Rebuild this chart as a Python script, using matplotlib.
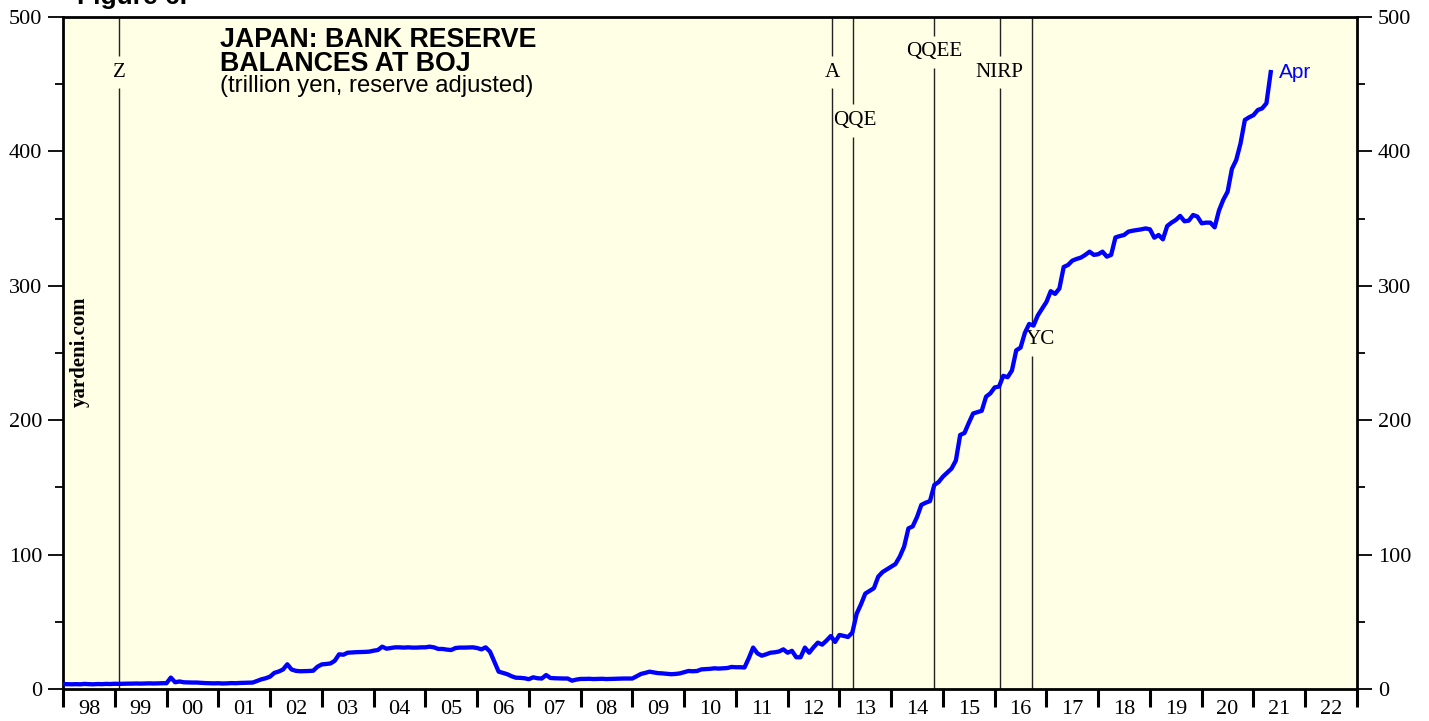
import matplotlib.pyplot as plt
import numpy as np

plt.rcParams['font.family'] = ['Liberation Serif', 'DejaVu Serif']

# bank reserve balances at BOJ, trillion yen, month-end values
dec1997 = [3.6]
r1998 = [3.6, 3.5, 3.6, 3.5, 3.8, 3.6, 3.5, 3.7, 3.6, 3.8, 3.7, 3.9]
r1999 = [3.8, 3.9, 4.0, 4.0, 4.1, 4.0, 4.1, 4.2, 4.1, 4.2, 4.3, 4.3]
r2000 = [8.5, 5.0, 5.6, 5.0, 4.9, 4.8, 4.8, 4.6, 4.4, 4.3, 4.2, 4.3]
r2001 = [4.1, 4.2, 4.4, 4.3, 4.5, 4.6, 4.7, 4.8, 6.0, 7.2, 8.0, 9.2]
r2002 = [12.0, 13.0, 14.5, 18.4, 14.5, 13.5, 13.2, 13.3, 13.4, 13.6, 16.6, 18.3]
r2003 = [18.6, 19.0, 21.0, 25.8, 25.5, 27.0, 27.2, 27.4, 27.5, 27.6, 27.8, 28.5]
r2004 = [29.0, 31.5, 30.0, 30.5, 31.0, 31.0, 30.8, 31.0, 30.8, 30.8, 31.0, 31.0]
r2005 = [31.5, 31.0, 29.8, 29.8, 29.3, 29.0, 30.5, 30.8, 30.8, 30.9, 31.0, 30.5]
r2006 = [29.5, 31.0, 27.8, 20.3, 12.9, 12.0, 11.0, 9.5, 8.4, 8.3, 8.0, 7.3]
r2007 = [8.7, 8.0, 7.8, 10.4, 8.2, 8.0, 7.9, 7.8, 7.8, 6.2, 7.0, 7.5]
r2008 = [7.5, 7.6, 7.4, 7.5, 7.6, 7.4, 7.5, 7.6, 7.7, 7.8, 7.8, 7.8]
r2009 = [9.5, 11.2, 12.0, 12.9, 12.3, 11.8, 11.6, 11.3, 11.0, 11.2, 11.6, 12.5]
r2010 = [13.4, 13.2, 13.4, 14.6, 14.8, 15.0, 15.4, 15.2, 15.4, 15.6, 16.4, 16.2]
r2011 = [16.2, 16.0, 23.0, 30.8, 26.5, 24.8, 25.8, 27.0, 27.3, 27.9, 29.5, 27.0]
r2012 = [28.4, 23.6, 23.6, 30.8, 27.0, 31.0, 34.5, 33.0, 36.0, 39.4, 35.0, 40.2]
r2013 = [39.5, 38.7, 42.0, 56.0, 63.0, 71.0, 73.0, 75.0, 83.6, 87.0, 89.0, 91.0]
r2014 = [93.0, 98.5, 105.9, 119.5, 121.0, 128.0, 137.0, 138.6, 139.8, 151.8, 154.0, 158.0]
r2015 = [161.0, 164.0, 170.0, 189.0, 190.5, 198.0, 205.0, 206.0, 207.0, 217.5, 220.0, 224.4]
r2016 = [225.0, 233.0, 232.0, 237.0, 252.0, 254.0, 265.0, 271.6, 270.4, 278.0, 283.0, 288.0]
r2017 = [296.0, 294.0, 298.0, 314.0, 315.5, 318.7, 320.0, 321.0, 323.0, 325.4, 323.0, 323.5]
r2018 = [325.4, 321.7, 323.0, 336.0, 337.0, 337.8, 340.3, 341.0, 341.5, 342.0, 342.7, 342.0]
r2019 = [335.8, 337.8, 334.6, 344.5, 347.0, 349.0, 352.0, 348.0, 348.5, 352.7, 351.5, 346.5]
r2020 = [347.0, 347.0, 343.5, 356.0, 364.0, 370.0, 387.0, 393.6, 406.0, 423.4, 425.4, 427.0]
r2021 = [430.8, 432.0, 435.8, 459.0]

# policy events (vertical lines) and where their labels sit
events = ['Z', 'A', 'QQE', 'QQEE', 'NIRP', 'YC']
event_dates = [1999.09, 2012.86, 2013.26, 2014.83, 2016.10, 2016.73]
event_label_x = [1999.09, 2012.86, 2013.30, 2014.84, 2016.10, 2016.89]
event_label_y = [459, 459, 423, 474, 459, 260]

years = list(range(1998, 2024))
year_labels = ['%02d' % (y % 100) for y in range(1998, 2023)]

values = (dec1997 + r1998 + r1999 + r2000 + r2001 + r2002 + r2003 + r2004 +
          r2005 + r2006 + r2007 + r2008 + r2009 + r2010 + r2011 + r2012 +
          r2013 + r2014 + r2015 + r2016 + r2017 + r2018 + r2019 + r2020 + r2021)
dates = 1998 + np.arange(len(values)) / 12

bg = '#FFFFE5'
W, H = 1429, 721
fig = plt.figure(figsize=(W / 100, H / 100), dpi=100)
ax = fig.add_axes([63 / W, 32 / H, 1294 / W, 672 / H])
ax.set_facecolor(bg)

# event lines, broken where the label sits
for name, d, lx, ly in zip(events, event_dates, event_label_x, event_label_y):
	ax.vlines(d, 0, ly - 12, color='#222222', lw=1.0, zorder=1)
	ax.vlines(d, ly + 12, 500, color='#222222', lw=1.0, zorder=1)
	ax.text(lx, ly, name, ha='center', va='center', fontsize=15.2, zorder=2)

ax.plot(dates, values, color='#0000FF', lw=3.1, zorder=3, solid_joinstyle='round')
ax.annotate('Apr', (dates[-1], values[-1]), xytext=(6, 0), textcoords='offset points',
            color='#0000FF', fontsize=15, family='Liberation Sans', va='center', ha='left')

ax.set_xlim(1998, 2023)
ax.set_ylim(0, 500)
ax.set_xticks(years)
ax.set_xticks(np.arange(1998.5, 2023, 1), minor=True)
ax.set_xticklabels([])
ax.set_xticklabels(year_labels, minor=True)
ax.tick_params(axis='x', which='major', direction='out', length=13, width=2.2)
ax.tick_params(axis='x', which='minor', length=0, pad=8, labelsize=16)

ax.set_yticks(range(0, 501, 100))
ax.set_yticks(range(50, 500, 100), minor=True)
ax.tick_params(axis='y', which='both', left=True, right=True,
               labelleft=True, labelright=True, direction='out', width=1.3)
ax.tick_params(axis='y', which='major', length=11, pad=4, labelsize=16)
ax.tick_params(axis='y', which='minor', length=6)

for s in ax.spines.values():
	s.set_linewidth(2)

fig.text(77 / W, 1 - 4 / H, 'Figure 6.', family='Liberation Sans', fontweight='bold',
         fontsize=19, va='baseline')
fig.text(220 / W, 1 - 47 / H, 'JAPAN: BANK RESERVE', family='Liberation Sans',
         fontweight='bold', fontsize=19.3, va='baseline')
fig.text(220 / W, 1 - 71 / H, 'BALANCES AT BOJ', family='Liberation Sans',
         fontweight='bold', fontsize=19.3, va='baseline')
fig.text(220 / W, 1 - 92 / H, '(trillion yen, reserve adjusted)', family='Liberation Sans',
         fontsize=17.2, va='baseline')
fig.text(80 / W, 1 - 352 / H, 'yardeni.com', fontweight='bold', fontsize=15,
         rotation=90, ha='center', va='center')

fig.savefig('out.png', dpi=100)
